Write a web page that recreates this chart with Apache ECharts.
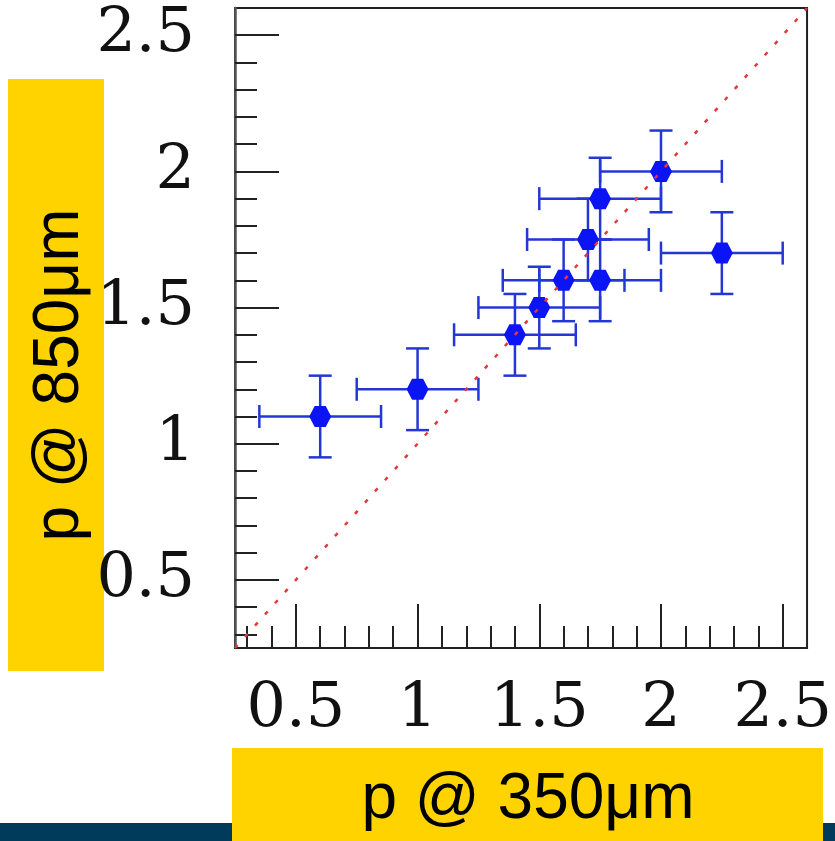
<!DOCTYPE html>
<html>
<head>
<meta charset="utf-8">
<script src="https://cdn.jsdelivr.net/npm/echarts@6/dist/echarts.min.js"></script>
<style>html,body{margin:0;padding:0;background:#fff;}#c{width:835px;height:841px;}</style>
</head>
<body>
<div id="c"></div>
<script>
// Data
const xVals = [0.6, 1.0, 1.4, 1.5, 1.6, 1.75, 1.7, 1.75, 2.0, 2.25];
const yVals = [1.1, 1.2, 1.4, 1.5, 1.6, 1.6, 1.75, 1.9, 2.0, 1.7];
const xErr = [0.25, 0.25, 0.25, 0.25, 0.25, 0.25, 0.25, 0.25, 0.25, 0.25];
const yErr = [0.15, 0.15, 0.15, 0.15, 0.15, 0.15, 0.15, 0.15, 0.15, 0.15];
const oneToOne = [[0.25, 0.25], [2.6, 2.6]];
const xTickLabels = [0.5, 1, 1.5, 2, 2.5];
const yTickLabels = [0.5, 1, 1.5, 2, 2.5];
const xMinorTicks = [0.3, 0.4, 0.6, 0.7, 0.8, 0.9, 1.1, 1.2, 1.3, 1.4, 1.6, 1.7, 1.8, 1.9, 2.1, 2.2, 2.3, 2.4];
const yMinorTicks = [0.3, 0.4, 0.6, 0.7, 0.8, 0.9, 1.1, 1.2, 1.3, 1.4, 1.6, 1.7, 1.8, 1.9, 2.1, 2.2, 2.3, 2.4];
const xTitle = 'p @ 350\u03bcm';
const yTitle = 'p @ 850\u03bcm';

const pts = xVals.map((x, i) => [x, yVals[i], xErr[i], yErr[i]]);
const axisMin = 0.25, axisMax = 2.6;
const lab = {fontFamily: 'DejaVu Serif', fontSize: 62, color: '#111'};

function mkAxis(isX, major) {
  return {
    type: 'value', min: axisMin, max: axisMax,
    position: isX ? 'bottom' : 'left',
    axisLine: {show: major, onZero: false, lineStyle: {color: isX ? '#222' : '#555', width: isX ? 2 : 2.5}},
    axisTick: {show: true, inside: true, length: major ? 44 : 22,
      customValues: major ? (isX ? xTickLabels : yTickLabels) : (isX ? xMinorTicks : yMinorTicks),
      lineStyle: {color: '#222', width: 2}},
    axisLabel: major ? Object.assign({customValues: isX ? xTickLabels : yTickLabels, margin: isX ? 31 : 40}, lab) : {show: false},
    splitLine: {show: false}
  };
}

const chart = echarts.init(document.getElementById('c'), null, {renderer: 'canvas'});
const hex = 'path://M0,50 L25,4 L75,4 L100,50 L75,96 L25,96 Z';
chart.setOption({
  animation: false,
  backgroundColor: '#fff',
  grid: {left: 235, top: 8, width: 574, height: 640, show: true, borderColor: '#222', borderWidth: 2, backgroundColor: 'transparent'},
  xAxis: [mkAxis(true, true), mkAxis(true, false)],
  yAxis: [mkAxis(false, true), mkAxis(false, false)],
  graphic: [
    {type: 'rect', z: -10, shape: {x: 0, y: 823, width: 835, height: 18}, style: {fill: '#003B5C'}},
    {type: 'rect', z: -5, shape: {x: 232, y: 748, width: 591, height: 93}, style: {fill: '#FFD300'}},
    {type: 'rect', z: -5, shape: {x: 8, y: 79, width: 96, height: 592}, style: {fill: '#FFD300'}},
    {type: 'text', z: 5, x: 528, y: 800, style: {text: xTitle, font: '64px "Liberation Sans"', fill: '#000', align: 'center', verticalAlign: 'middle'}},
    {type: 'text', z: 5, x: 60, y: 375, rotation: Math.PI / 2, style: {text: yTitle, font: '64px "Liberation Sans"', fill: '#000', align: 'center', verticalAlign: 'middle'}}
  ],
  series: [
    {
      type: 'custom', z: 2,
      data: pts,
      renderItem: function (params, api) {
        const x = api.value(0), y = api.value(1), ex = api.value(2), ey = api.value(3);
        const l = api.coord([x - ex, y]), r = api.coord([x + ex, y]);
        const t = api.coord([x, y + ey]), b = api.coord([x, y - ey]);
        const c = 11.5;
        const st = {stroke: '#2437D6', lineWidth: 2.5};
        return {type: 'group', children: [
          {type: 'line', shape: {x1: l[0], y1: l[1], x2: r[0], y2: r[1]}, style: st},
          {type: 'line', shape: {x1: t[0], y1: t[1], x2: b[0], y2: b[1]}, style: st},
          {type: 'line', shape: {x1: l[0], y1: l[1] - c, x2: l[0], y2: l[1] + c}, style: st},
          {type: 'line', shape: {x1: r[0], y1: r[1] - c, x2: r[0], y2: r[1] + c}, style: st},
          {type: 'line', shape: {x1: t[0] - c, y1: t[1], x2: t[0] + c, y2: t[1]}, style: st},
          {type: 'line', shape: {x1: b[0] - c, y1: b[1], x2: b[0] + c, y2: b[1]}, style: st}
        ]};
      }
    },
    {
      type: 'scatter', z: 3,
      data: pts.map(p => [p[0], p[1]]),
      symbol: hex, symbolSize: [22, 21],
      itemStyle: {color: '#0A14F5', opacity: 1}
    },
    {
      type: 'line', z: 4,
      data: oneToOne, symbol: 'none', clip: true,
      lineStyle: {color: '#E03A3A', width: 2.5, type: [4, 11]}
    }
  ]
});
</script>
</body>
</html>
